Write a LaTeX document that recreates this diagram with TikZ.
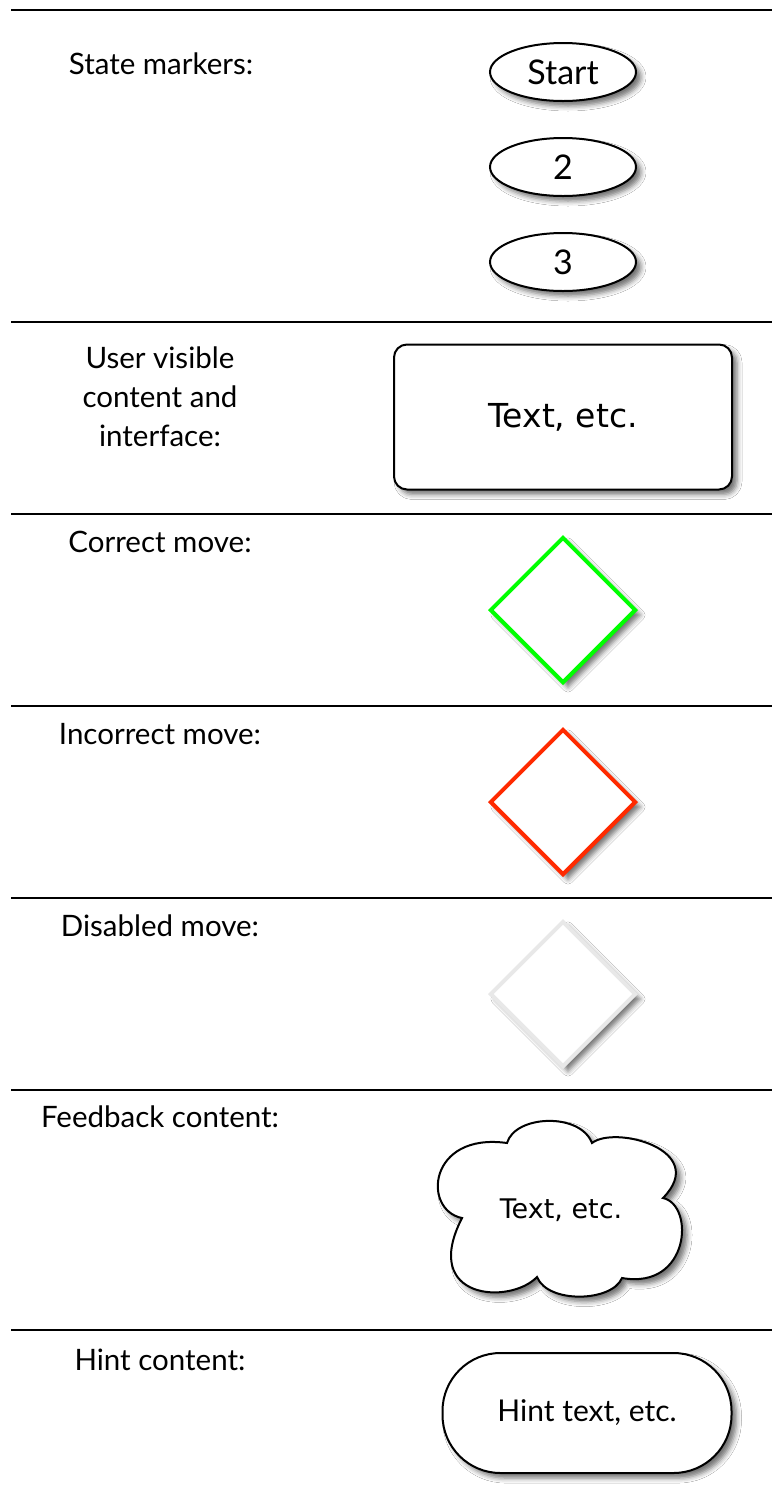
\documentclass[tikz,border=0pt]{standalone}
\usepackage{fontspec}
\setmainfont{Lato}
\newfontfamily\verd{DejaVu Sans}
\usetikzlibrary{shapes.geometric,shadows.blur}
\definecolor{okgreen}{HTML}{00FF00}
\definecolor{badred}{HTML}{FF2A00}
\definecolor{offgrey}{HTML}{E8E8E8}
\tikzset{
  sep/.style={line width=2.5pt,black},
  lbl/.style={font=\fontsize{29.5}{39}\selectfont,align=center,inner sep=0pt},
  shad/.style={blur shadow={shadow xshift=5pt,shadow yshift=-5pt,shadow blur radius=5pt,shadow opacity=55}},
  statemark/.style={ellipse,draw,line width=2pt,fill=white,minimum width=146pt,minimum height=58pt,inner sep=0pt,shad,font=\fontsize{34}{36}\selectfont},
  uibox/.style={rectangle,draw,line width=2pt,rounded corners=13pt,fill=white,minimum width=338pt,minimum height=145pt,shad,font=\verd\fontsize{33}{35}\selectfont},
  move/.style={diamond,draw,line width=4pt,fill=white,minimum width=146pt,minimum height=146pt,inner sep=0pt,shad},
  hintbox/.style={rectangle,draw,line width=2pt,rounded corners=58pt,fill=white,minimum width=289pt,minimum height=120pt,shad,font=\fontsize{30}{32}\selectfont},
}
\begin{document}
\begin{tikzpicture}[x=1pt,y=1pt]
\useasboundingbox (0,0) rectangle (772,-1492);
\fill[white] (0,0) rectangle (772,-1492);
% separators
\foreach \yy in {10,322,514,706,898,1090,1330}{
  \draw[sep] (11,-\yy) -- (772,-\yy);
}
% labels
\node[lbl] (l1) at (161,-64) {State markers:};
\node[lbl] (l2) at (160,-397) {User visible\\content and\\interface:};
\node[lbl] (l3) at (160,-542) {Correct move:};
\node[lbl] (l4) at (160,-734) {Incorrect move:};
\node[lbl] (l5) at (160,-926) {Disabled move:};
\node[lbl] (l6) at (160,-1117) {Feedback content:};
\node[lbl] (l7) at (160,-1360) {Hint content:};
% state markers
\node[statemark] (s1) at (563,-72) {Start};
\node[statemark] (s2) at (563,-167) {2};
\node[statemark] (s3) at (563,-262) {3};
% user visible box
\node[uibox] (ui) at (563,-417) {Text, etc.};
% moves
\node[move,draw=okgreen] (mc) at (563,-610) {};
\node[move,draw=badred] (mi) at (563,-802) {};
\node[move,draw=offgrey] (md) at (563,-994) {};
% cloud
\coordinate (cA) at (507,-1143);
\coordinate (cB) at (592,-1143);
\coordinate (cC) at (663,-1198);
\coordinate (cD) at (622,-1278);
\coordinate (cE) at (537,-1277);
\coordinate (cF) at (462,-1218);
\draw[line width=2pt,fill=white,shad] (cA)
  .. controls (515,-1115) and (580,-1112) .. (cB)
  .. controls (615,-1125) and (710,-1150) .. (cC)
  .. controls (695,-1205) and (690,-1290) .. (cD)
  .. controls (612,-1302) and (548,-1304) .. (cE)
  .. controls (510,-1305) and (420,-1300) .. (cF)
  .. controls (422,-1210) and (428,-1132) .. (cA) -- cycle;
\node[font=\verd\fontsize{27}{29}\selectfont] (fb) at (561,-1210) {Text, etc.};
% hint
\node[hintbox] (hint) at (587,-1413) {Hint text, etc.};
\end{tikzpicture}
\end{document}
